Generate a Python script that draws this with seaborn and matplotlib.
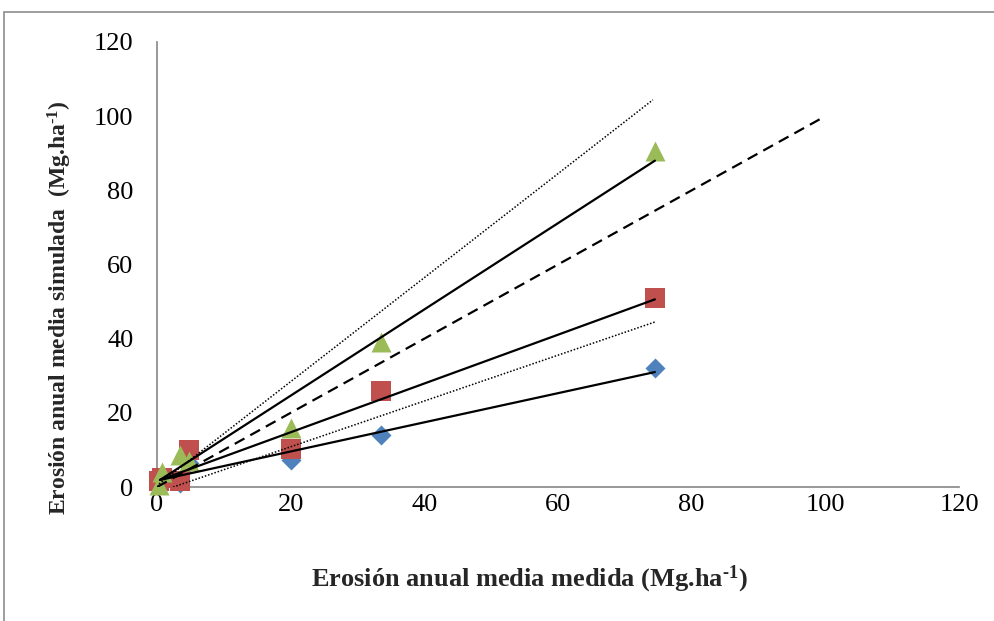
import numpy as np
import pandas as pd
import matplotlib
matplotlib.use("Agg")
import matplotlib.pyplot as plt
import seaborn as sns
from matplotlib.patches import Rectangle

# ---- data ----
x_medida = [0.3, 0.8, 3.5, 4.8, 20.0, 33.5, 74.5]
y_azul = [0.5, 1.0, 1.0, 6.5, 7.2, 14.0, 32.0]
y_rojo = [1.5, 2.5, 1.5, 10.0, 10.3, 26.0, 51.0]
y_verde = [0.5, 4.0, 8.5, 7.0, 16.0, 39.0, 90.5]

# trend lines (start / end points)
lin_x = [0.45, 74.5]
lin_azul = [1.9, 31.0]
lin_rojo = [1.9, 50.6]
lin_verde = [1.9, 88.0]
# 1:1 line
uno_x = [0, 100]
uno_y = [0, 100]
# dotted bounds
sup_x = [0.3, 74.2]
sup_y = [0.8, 104.4]
inf_x = [0.5, 74.5]
inf_y = [-1.2, 44.5]

xticks = [0, 20, 40, 60, 80, 100, 120]
yticks = [0, 20, 40, 60, 80, 100, 120]

sns.set_style("white")
plt.rcParams["font.family"] = ["Liberation Serif", "DejaVu Serif"]
plt.rcParams["mathtext.fontset"] = "custom"
plt.rcParams["mathtext.rm"] = "Liberation Serif:bold"
plt.rcParams["mathtext.default"] = "rm"

fig = plt.figure(figsize=(9.95, 6.21), dpi=100)
ax = fig.add_axes([157/995, 1-487/621, (959-157)/995, (487-42)/621])

AZUL = "#4F81BD"
ROJO = "#C0504D"
VERDE = "#9BBB59"

df = pd.DataFrame({"x": x_medida, "azul": y_azul, "rojo": y_rojo, "verde": y_verde})
sns.scatterplot(data=df, x="x", y="azul", marker="D", s=104, color=AZUL, linewidth=0, ax=ax, zorder=3, clip_on=False)
sns.scatterplot(data=df, x="x", y="rojo", marker="s", s=207, color=ROJO, linewidth=0, ax=ax, zorder=4, clip_on=False)
sns.scatterplot(data=df, x="x", y="verde", marker="^", s=207, color=VERDE, linewidth=0, ax=ax, zorder=5, clip_on=False)

for yy in (lin_azul, lin_rojo, lin_verde):
    sns.lineplot(x=lin_x, y=yy, color="black", lw=1.6, ax=ax, zorder=6)
sns.lineplot(x=uno_x, y=uno_y, color="black", lw=1.6, ax=ax, zorder=6, linestyle=(0, (5, 3)))
sns.lineplot(x=sup_x, y=sup_y, color="black", lw=1.1, ax=ax, zorder=6, linestyle=(0, (1, 1.2)))
sns.lineplot(x=inf_x, y=inf_y, color="black", lw=1.1, ax=ax, zorder=6, linestyle=(0, (1, 1.2)))

ax.set_xlim(0, 120)
ax.set_ylim(0, 120)
ax.set_xticks(xticks)
ax.set_yticks(yticks)
ax.set_xticklabels([str(t) for t in xticks])
ax.set_yticklabels([str(t) for t in yticks])

for s in ("top", "right"):
    ax.spines[s].set_visible(False)
for s in ("left", "bottom"):
    ax.spines[s].set_color("#868686")
    ax.spines[s].set_linewidth(1.2)
ax.tick_params(axis="both", which="major", direction="out", color="#868686",
               width=1.2, labelsize=19, labelcolor="black")
ax.tick_params(axis="x", length=5, pad=0)
ax.tick_params(axis="y", length=6, pad=11)

ax.set_xlabel("Erosión anual media medida (Mg.ha$^{\u20101}$)", fontsize=19, fontweight="bold")
ax.set_ylabel("Erosión anual media simulada  (Mg.ha$^{\u20101}$)", fontsize=17, fontweight="bold")
ax.xaxis.set_label_coords(0.465, -0.172)
ax.yaxis.set_label_coords(-0.104, 0.404)

# outer chart-area frame (partially visible)
fig.patches.append(Rectangle((4/995, -0.5), 1.5, 1.5 - 12/621,
                             transform=fig.transFigure, fill=False,
                             edgecolor="#8c8c8c", linewidth=1.2))

fig.savefig("out.png", dpi=100)
